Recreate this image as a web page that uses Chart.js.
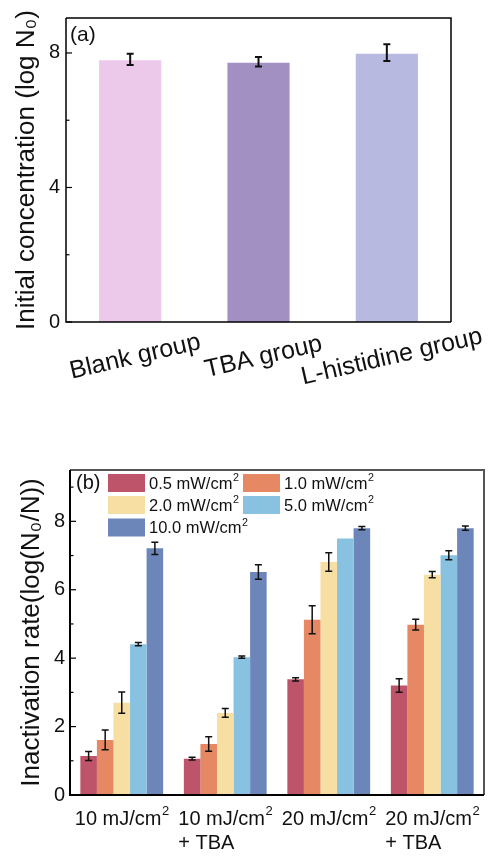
<!DOCTYPE html>
<html>
<head>
<meta charset="utf-8">
<script src="https://cdn.jsdelivr.net/npm/chart.js@4.4.1/dist/chart.umd.min.js"></script>
<style>
body { margin: 0; background: #fff; }
#wrapA { position: absolute; left: 0; top: 0; width: 491px; height: 430px; }
#wrapB { position: absolute; left: 0; top: 430px; width: 491px; height: 426px; }
</style>
</head>
<body>
<div id="wrapA"><canvas id="chartA" width="491" height="430"></canvas></div>
<div id="wrapB"><canvas id="chartB" width="491" height="426"></canvas></div>
<script>
// (a) initial concentration
var groupLabels = ['Blank group', 'TBA group', 'L-histidine group'];
var groupValues = [7.81, 7.74, 8.01];
var groupErrors = [0.17, 0.14, 0.25];
var groupColors = ['#ecc8eb', '#a390c2', '#b7b9e0'];

// (b) inactivation rate
var doseLabels = [['10 mJ/cm²'], ['10 mJ/cm²', '+ TBA'], ['20 mJ/cm²'], ['20 mJ/cm²', '+ TBA']];
var intensityLabels = ['0.5 mW/cm²', '1.0 mW/cm²', '2.0 mW/cm²', '5.0 mW/cm²', '10.0 mW/cm²'];
var intensityColors = ['#be5469', '#e58863', '#f7dea3', '#89c2e0', '#6c86ba'];
var rate05 = [1.14, 1.06, 3.38, 3.20];
var rate10 = [1.61, 1.49, 5.12, 4.98];
var rate20 = [2.70, 2.40, 6.81, 6.44];
var rate50 = [4.41, 4.03, 7.50, 7.01];
var rate100 = [7.21, 6.52, 7.80, 7.80];
var err05 = [0.13, 0.04, 0.05, 0.20];
var err10 = [0.29, 0.21, 0.41, 0.16];
var err20 = [0.31, 0.13, 0.27, 0.09];
var err50 = [0.05, 0.03, 0, 0.13];
var err100 = [0.18, 0.21, 0.05, 0.06];

var FONT = "'Liberation Sans', Arial, sans-serif";

// text with a real superscript 2 in place of '²'
function richWidth(ctx, text, size) {
    var parts = text.split('²');
    var w = 0;
    parts.forEach(function(p, k) {
        ctx.font = size + 'px ' + FONT;
        w += ctx.measureText(p).width;
        if (k < parts.length - 1) {
            ctx.font = (size * 0.65) + 'px ' + FONT;
            w += ctx.measureText('2').width;
        }
    });
    return w;
}

function drawRich(ctx, text, x, y, size) {
    var parts = text.split('²');
    ctx.textAlign = 'left';
    ctx.textBaseline = 'middle';
    parts.forEach(function(p, k) {
        ctx.font = size + 'px ' + FONT;
        ctx.fillText(p, x, y);
        x += ctx.measureText(p).width;
        if (k < parts.length - 1) {
            ctx.font = (size * 0.65) + 'px ' + FONT;
            ctx.fillText('2', x + 0.5, y - size * 0.36);
            x += ctx.measureText('2').width + 0.5;
        }
    });
}

function errorBarPlugin(lineW, capHalf) {
    return {
        id: 'errbars',
        afterDatasetsDraw: function(chart) {
            var ctx = chart.ctx;
            var y = chart.scales.y;
            ctx.save();
            ctx.strokeStyle = '#111';
            ctx.lineWidth = lineW;
            chart.data.datasets.forEach(function(ds, i) {
                var meta = chart.getDatasetMeta(i);
                meta.data.forEach(function(bar, j) {
                    var e = ds.errors[j];
                    if (!e) return;
                    var v = ds.data[j];
                    var y1 = y.getPixelForValue(v + e);
                    var y2 = y.getPixelForValue(v - e);
                    ctx.beginPath();
                    ctx.moveTo(bar.x, y1); ctx.lineTo(bar.x, y2);
                    ctx.moveTo(bar.x - capHalf, y1); ctx.lineTo(bar.x + capHalf, y1);
                    ctx.moveTo(bar.x - capHalf, y2); ctx.lineTo(bar.x + capHalf, y2);
                    ctx.stroke();
                });
            });
            ctx.restore();
        }
    };
}

function framePlugin(cfg) {
    return {
        id: 'frame',
        afterDraw: function(chart) {
            var ctx = chart.ctx;
            var a = chart.chartArea;
            var y = chart.scales.y;
            ctx.save();
            // inward ticks
            ctx.strokeStyle = '#000';
            ctx.lineWidth = 1.2;
            y.ticks.forEach(function(t) {
                var py = y.getPixelForValue(t.value);
                ctx.beginPath(); ctx.moveTo(a.left, py); ctx.lineTo(a.left + 6, py); ctx.stroke();
                var mid = t.value + cfg.step / 2;
                if (mid < y.max) {
                    var pm = y.getPixelForValue(mid);
                    ctx.beginPath(); ctx.moveTo(a.left, pm); ctx.lineTo(a.left + 3.5, pm); ctx.stroke();
                }
            });
            // box
            ctx.lineWidth = cfg.boxWidth;
            ctx.strokeStyle = cfg.boxColor;
            ctx.beginPath();
            ctx.moveTo(a.left, a.top); ctx.lineTo(a.right, a.top); ctx.lineTo(a.right, a.bottom);
            ctx.stroke();
            ctx.strokeStyle = '#000';
            ctx.lineWidth = cfg.axisWidth;
            ctx.beginPath();
            ctx.moveTo(a.left, a.top); ctx.lineTo(a.left, a.bottom); ctx.lineTo(a.right, a.bottom);
            ctx.stroke();
            // panel letter
            ctx.fillStyle = '#111';
            ctx.font = cfg.panelSize + 'px ' + FONT;
            ctx.textAlign = 'left';
            ctx.textBaseline = 'middle';
            ctx.fillText(cfg.panel, a.left + cfg.panelDx, a.top + cfg.panelDy);
            ctx.restore();
        }
    };
}

var rotatedLabels = {
    id: 'rotlabels',
    afterDraw: function(chart) {
        var ctx = chart.ctx;
        var x = chart.scales.x;
        ctx.save();
        ctx.fillStyle = '#111';
        ctx.font = '25px ' + FONT;
        ctx.textAlign = 'center';
        ctx.textBaseline = 'middle';
        chart.data.labels.forEach(function(lab, i) {
            var px = x.getPixelForValue(i) + 5;
            ctx.save();
            ctx.translate(px, 357);
            ctx.rotate(-13 * Math.PI / 180);
            ctx.fillText(lab, 0, 0);
            ctx.restore();
        });
        ctx.restore();
    }
};

var twoLineLabels = {
    id: 'twolabels',
    afterDraw: function(chart) {
        var ctx = chart.ctx;
        var x = chart.scales.x;
        var a = chart.chartArea;
        ctx.save();
        ctx.fillStyle = '#111';
        chart.data.labels.forEach(function(lines, i) {
            var px = x.getPixelForValue(i);
            var w = richWidth(ctx, lines[0], 20);
            drawRich(ctx, lines[0], px - w / 2, a.bottom + 24, 20);
            if (lines[1]) drawRich(ctx, lines[1], px - w / 2, a.bottom + 48, 20);
        });
        ctx.restore();
    }
};

var boxLegend = {
    id: 'boxlegend',
    afterDraw: function(chart) {
        var ctx = chart.ctx;
        var a = chart.chartArea;
        var cols = [38, 173];
        var rows = [13, 35, 57.5];
        ctx.save();
        chart.data.datasets.forEach(function(ds, i) {
            var cx = a.left + cols[i % 2];
            var cy = a.top + rows[Math.floor(i / 2)];
            ctx.fillStyle = ds.backgroundColor;
            ctx.fillRect(cx, cy - 9, 37, 18);
            ctx.fillStyle = '#111';
            drawRich(ctx, ds.label, cx + 41, cy + 1, 16.5);
        });
        ctx.restore();
    }
};

var chartA = new Chart(document.getElementById('chartA').getContext('2d'), {
    type: 'bar',
    data: {
        labels: groupLabels,
        datasets: [{
            data: groupValues,
            errors: groupErrors,
            backgroundColor: groupColors,
            borderColor: 'rgba(255,255,255,0.5)',
            borderWidth: 1,
            categoryPercentage: 0.5,
            barPercentage: 1.0
        }]
    },
    options: {
        responsive: false,
        animation: false,
        layout: { padding: { top: 17, right: 40, left: 0, bottom: 0 } },
        plugins: { legend: { display: false }, tooltip: { enabled: false } },
        scales: {
            x: {
                grid: { display: false },
                border: { display: false },
                ticks: { display: false },
                afterFit: function(s) { s.height = 108; }
            },
            y: {
                min: 0,
                max: 9.04,
                grid: { display: false, drawTicks: false },
                border: { display: false },
                ticks: { stepSize: 4, includeBounds: false, padding: 6, color: '#111', font: { family: FONT, size: 20 } },
                title: { display: true, text: 'Initial concentration (log N₀)', color: '#111', font: { family: FONT, size: 26 }, padding: { top: 11, bottom: 0 } },
                afterFit: function(s) { s.width = 66; }
            }
        }
    },
    plugins: [errorBarPlugin(2, 3.5), framePlugin({ step: 4, boxColor: '#000', boxWidth: 1.5, axisWidth: 1.5, panel: '(a)', panelSize: 21, panelDx: 4, panelDy: 17 }), rotatedLabels]
});

var rateSeries = [rate05, rate10, rate20, rate50, rate100];
var errSeries = [err05, err10, err20, err50, err100];

var chartB = new Chart(document.getElementById('chartB').getContext('2d'), {
    type: 'bar',
    data: {
        labels: doseLabels,
        datasets: intensityLabels.map(function(lab, i) {
            return {
                label: lab,
                data: rateSeries[i],
                errors: errSeries[i],
                backgroundColor: intensityColors[i],
                categoryPercentage: 0.8,
                barPercentage: 1.0
            };
        })
    },
    options: {
        responsive: false,
        animation: false,
        layout: { padding: { top: 40, right: 7, left: 0, bottom: 0 } },
        plugins: { legend: { display: false }, tooltip: { enabled: false } },
        scales: {
            x: {
                grid: { display: false },
                border: { display: false },
                ticks: { display: false },
                afterFit: function(s) { s.height = 61; }
            },
            y: {
                min: 0,
                max: 9.5,
                grid: { display: false, drawTicks: false },
                border: { display: false },
                ticks: { stepSize: 2, includeBounds: false, padding: 5, color: '#111', font: { family: FONT, size: 20 } },
                title: { display: true, text: 'Inactivation rate(log(N₀/N))', color: '#111', font: { family: FONT, size: 26 }, padding: { top: 16, bottom: 0 } },
                afterFit: function(s) { s.width = 70; }
            }
        }
    },
    plugins: [errorBarPlugin(1.5, 3.5), framePlugin({ step: 2, boxColor: '#555', boxWidth: 2, axisWidth: 2, panel: '(b)', panelSize: 20, panelDx: 6, panelDy: 13 }), twoLineLabels, boxLegend]
});
</script>
</body>
</html>
